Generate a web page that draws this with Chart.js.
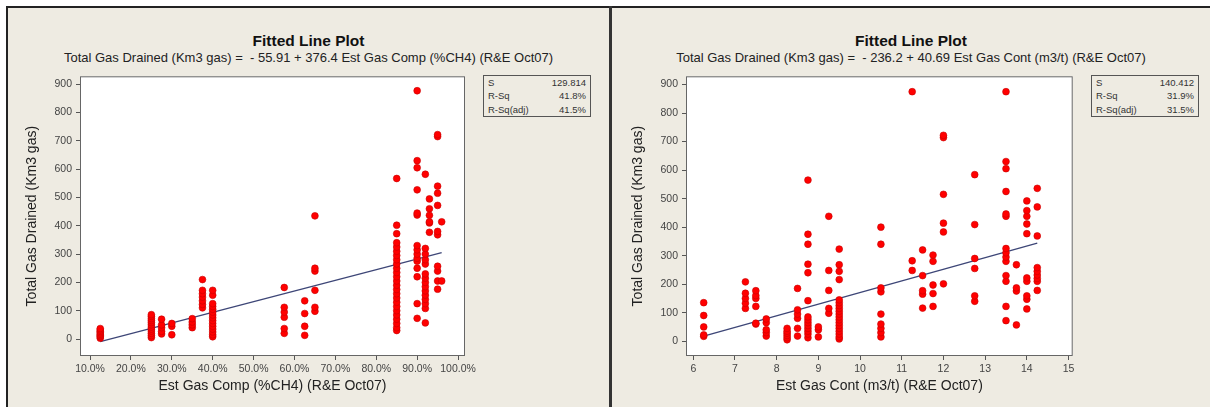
<!DOCTYPE html>
<html>
<head>
<meta charset="utf-8">
<title>Fitted Line Plot</title>
<script src="https://cdn.jsdelivr.net/npm/chart.js@4.4.1/dist/chart.umd.min.js"></script>
<style>
    html, body { margin: 0; padding: 0; background: #fff; }
    body { width: 1210px; height: 407px; position: relative; overflow: hidden; font-family: "Liberation Sans", Arial, sans-serif; }
    #frame { position: absolute; left: 6px; top: 6px; width: 1204px; height: 401px; background: #eeebe2; border-top: 2px solid #222; border-left: 2px solid #222; }
    #divider { position: absolute; left: 609px; top: 6px; width: 3px; height: 401px; background: #333; }
    .title { position: absolute; top: 32px; width: 601px; text-align: center; font-weight: bold; font-size: 15.5px; line-height: 18px; color: #111; }
    .subtitle { position: absolute; top: 50px; width: 601px; text-align: center; font-size: 13px; line-height: 15px; color: #222; white-space: pre; }
    .stats { position: absolute; top: 75px; width: 108px; height: 42px; box-sizing: border-box; border: 1px solid #555; padding: 0 4px; font-size: 9.5px; color: #333; }
    .stats div { display: flex; justify-content: space-between; line-height: 13.3px; }
    canvas { position: absolute; top: 66px; }
</style>
</head>
<body>
<div id="frame"></div>
<div id="divider"></div>

<div class="title" style="left:8px">Fitted Line Plot</div>
<div class="subtitle" style="left:8px">Total Gas Drained (Km3 gas) =  - 55.91 + 376.4 Est Gas Comp (%CH4) (R&amp;E Oct07)</div>
<div class="stats" style="left:483px">
    <div><span>S</span><span>129.814</span></div>
    <div><span>R-Sq</span><span>41.8%</span></div>
    <div><span>R-Sq(adj)</span><span>41.5%</span></div>
</div>
<canvas id="compChart" width="475" height="341" style="left:8px"></canvas>

<div class="title" style="left:612px;width:598px">Fitted Line Plot</div>
<div class="subtitle" style="left:612px;width:598px">Total Gas Drained (Km3 gas) =  - 236.2 + 40.69 Est Gas Cont (m3/t) (R&amp;E Oct07)</div>
<div class="stats" style="left:1091px">
    <div><span>S</span><span>140.412</span></div>
    <div><span>R-Sq</span><span>31.9%</span></div>
    <div><span>R-Sq(adj)</span><span>31.5%</span></div>
</div>
<canvas id="contChart" width="479" height="341" style="left:612px"></canvas>

<script>
// Est Gas Comp (%CH4, as fraction) and the drained values seen at each level
const compLevels = [0.125, 0.25, 0.275, 0.30, 0.35, 0.375, 0.40, 0.575, 0.625, 0.65, 0.85, 0.90, 0.92, 0.93, 0.95, 0.96];
const compDrained = [
    [3, 8, 12, 17, 22, 27, 32, 37],
    [5, 12, 20, 28, 35, 42, 50, 58, 65, 72, 80, 86],
    [18, 27, 40, 50, 70],
    [15, 45, 55],
    [40, 50, 60, 72],
    [110, 122, 135, 148, 160, 172, 210],
    [8, 15, 25, 35, 45, 55, 65, 75, 85, 95, 105, 115, 125, 155, 172],
    [20, 37, 77, 95, 112, 182],
    [13, 45, 90, 135],
    [98, 112, 172, 240, 250, 435],
    [30, 40, 55, 70, 85, 100, 115, 130, 145, 160, 175, 190, 205, 220, 235, 250, 265, 280, 295, 310, 325, 340, 372, 402, 567],
    [73, 125, 220, 250, 275, 285, 300, 315, 330, 438, 445, 527, 605, 630, 877],
    [57, 108, 125, 140, 155, 170, 185, 200, 215, 230, 265, 280, 300, 320, 582],
    [377, 410, 414, 437, 460, 495],
    [176, 205, 240, 257, 368, 380, 472, 515, 540, 715, 722],
    [205, 414]
];
const compFit = [-55.91, 376.4];   // intercept, slope
const compTicks = [0.1, 0.2, 0.3, 0.4, 0.5, 0.6, 0.7, 0.8, 0.9, 1.0];

// Est Gas Cont (m3/t) and the drained values seen at each level
const contLevels = [6.25, 7.25, 7.5, 7.75, 8.25, 8.5, 8.75, 9.0, 9.25, 9.5, 10.5, 11.25, 11.5, 11.75, 12.0, 12.75, 13.5, 13.75, 14.0, 14.25];
const contDrained = [
    [17, 22, 50, 90, 135],
    [115, 133, 150, 168, 208],
    [60, 63, 122, 150, 160, 177],
    [18, 30, 40, 65, 78],
    [5, 12, 20, 28, 35, 45],
    [18, 45, 80, 95, 110, 185],
    [12, 25, 35, 45, 55, 65, 75, 85, 142, 240, 270, 340, 375, 565],
    [15, 40, 50],
    [98, 115, 178, 248, 438],
    [8, 15, 25, 35, 45, 55, 65, 75, 85, 95, 105, 115, 125, 135, 145, 216, 245, 268, 323],
    [15, 30, 45, 60, 95, 173, 187, 340, 400],
    [248, 282, 875],
    [116, 165, 177, 230, 320],
    [122, 167, 197, 280, 302],
    [201, 383, 414, 515, 714, 722],
    [140, 159, 255, 290, 409, 584],
    [72, 122, 210, 230, 280, 295, 310, 325, 438, 446, 525, 605, 630, 875],
    [57, 176, 187, 268],
    [113, 147, 159, 210, 222, 377, 411, 438, 458, 492],
    [178, 210, 220, 232, 245, 258, 369, 471, 536]
];
const contFit = [-236.2, 40.69];
const contTicks = [6, 7, 8, 9, 10, 11, 12, 13, 14, 15];

const drainedTicks = [0, 100, 200, 300, 400, 500, 600, 700, 800, 900];

// white plot area with a grey frame, like Minitab
const plotFrame = {
    id: 'plotFrame',
    beforeDatasetsDraw(chart) {
        const a = chart.chartArea;
        chart.ctx.save();
        chart.ctx.fillStyle = '#ffffff';
        chart.ctx.fillRect(a.left, a.top, a.right - a.left, a.bottom - a.top);
        chart.ctx.restore();
    },
    afterDraw(chart) {
        const a = chart.chartArea;
        const ctx = chart.ctx;
        ctx.save();
        ctx.strokeStyle = '#666';
        ctx.lineWidth = 1;
        ctx.strokeRect(a.left + 0.5, a.top + 0.5, a.right - a.left - 1, a.bottom - a.top - 1);
        ctx.restore();
    }
};

function makePlot(id, levels, drained, fit, xTicks, opts) {
    const points = [];
    levels.forEach((x, i) => {
        drained[i].forEach(y => points.push({ x: x, y: y }));
    });
    const x0 = levels[0];
    const x1 = levels[levels.length - 1];
    const fitLine = [
        { x: x0, y: fit[0] + fit[1] * x0 },
        { x: x1, y: fit[0] + fit[1] * x1 }
    ];

    const tickFont = { family: '"Liberation Sans", Arial, sans-serif', size: 10.5 };
    const titleFont = { family: '"Liberation Sans", Arial, sans-serif', size: 14 };

    new Chart(document.getElementById(id), {
        type: 'scatter',
        data: {
            datasets: [
                {
                    data: fitLine,
                    type: 'line',
                    showLine: true,
                    borderColor: '#3d4677',
                    borderWidth: 1.3,
                    pointRadius: 0,
                    order: 2
                },
                {
                    data: points,
                    backgroundColor: '#ff0000',
                    borderColor: '#c80000',
                    borderWidth: 0.6,
                    pointRadius: 3.4,
                    order: 1
                }
            ]
        },
        options: {
            responsive: false,
            animation: false,
            layout: { padding: { top: 7, right: opts.padRight, bottom: 0, left: 0 } },
            plugins: {
                legend: { display: false },
                tooltip: { enabled: false }
            },
            scales: {
                x: {
                    type: 'linear',
                    min: opts.xMin,
                    max: opts.xMax,
                    afterBuildTicks: scale => { scale.ticks = xTicks.map(v => ({ value: v })); },
                    afterFit: scale => { scale.height = 51; },
                    grid: { drawOnChartArea: false, drawTicks: true, tickLength: 4, color: '#555' },
                    border: { display: false },
                    ticks: {
                        autoSkip: false,
                        maxRotation: 0,
                        padding: 3,
                        color: '#444',
                        font: tickFont,
                        callback: opts.xLabel
                    },
                    title: {
                        display: true,
                        text: opts.xTitle,
                        color: '#222',
                        font: titleFont,
                        padding: { top: 0, bottom: 12.6 }
                    }
                },
                y: {
                    min: opts.yMin,
                    max: opts.yMax,
                    afterBuildTicks: scale => { scale.ticks = drainedTicks.map(v => ({ value: v })); },
                    afterFit: scale => { scale.width = opts.yWidth; },
                    grid: { drawOnChartArea: false, drawTicks: true, tickLength: 4, color: '#555' },
                    border: { display: false },
                    ticks: { padding: 4, color: '#444', font: tickFont },
                    title: {
                        display: true,
                        text: 'Total Gas Drained (Km3 gas)',
                        color: '#222',
                        font: titleFont,
                        padding: { top: opts.yTitlePad, bottom: 0 }
                    }
                }
            }
        },
        plugins: [plotFrame]
    });
}

makePlot('compChart', compLevels, compDrained, compFit, compTicks, {
    xMin: 0.0755, xMax: 1.017, yMin: -60, yMax: 928,
    padRight: 18, yWidth: 72, yTitlePad: 15.6,
    xTitle: 'Est Gas Comp (%CH4) (R&E Oct07)',
    xLabel: v => (v * 100).toFixed(1) + '%'
});

makePlot('contChart', contLevels, contDrained, contFit, contTicks, {
    xMin: 5.825, xMax: 15.1, yMin: -52, yMax: 929,
    padRight: 18.3, yWidth: 74, yTitlePad: 17.6,
    xTitle: 'Est Gas Cont (m3/t) (R&E Oct07)',
    xLabel: v => v
});
</script>
</body>
</html>
